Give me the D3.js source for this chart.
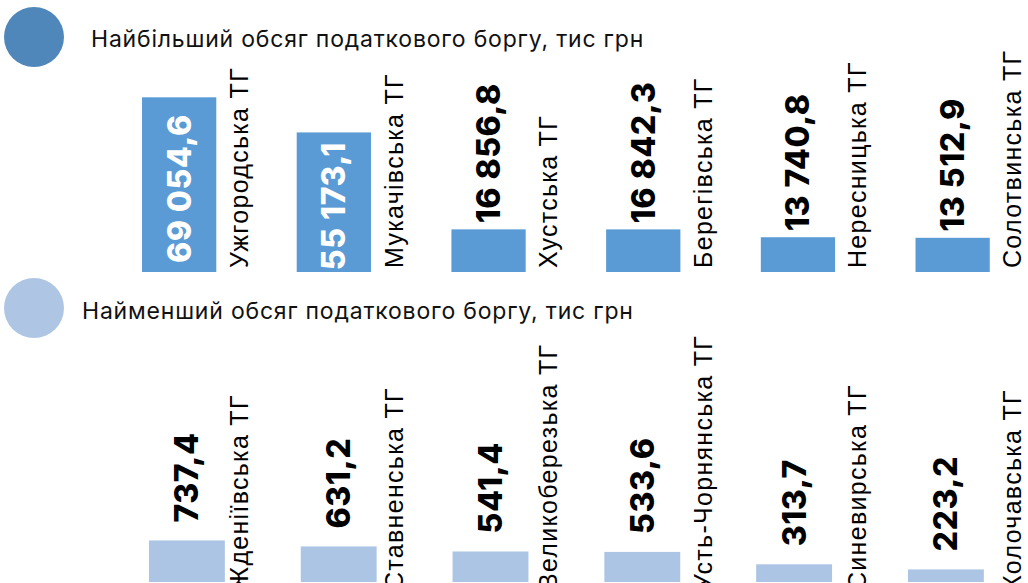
<!DOCTYPE html>
<html>
<head>
<meta charset="utf-8">
<script src="https://cdn.jsdelivr.net/npm/d3@7"></script>
<style>
  html, body { margin: 0; padding: 0; background: #fff; }
  svg { display: block; }
</style>
</head>
<body>
<div id="chart"></div>
<script>
/** --- DATA --- */

const topTitle = 'Найбільший обсяг податкового боргу, тис грн';
const topNames = ['Ужгородська ТГ', 'Мукачівська ТГ', 'Хустська ТГ', 'Берегівська ТГ', 'Нересницька ТГ', 'Солотвинська ТГ'];
const topValues = [69054.6, 55173.1, 16856.8, 16842.3, 13740.8, 13512.9];

const bottomTitle = 'Найменший обсяг податкового боргу, тис грн';
const bottomNames = ['Жденіївська ТГ', 'Ставненська ТГ', 'Великоберезька ТГ', 'Усть-Чорнянська ТГ', 'Синевирська ТГ', 'Колочавська ТГ'];
const bottomValues = [737.4, 631.2, 541.4, 533.6, 313.7, 223.2];

/** --- DIMENSIONS + MISC --- */

const width = 1028;
const height = 583;

const uaLocale = d3.formatLocale({ decimal: ',', thousands: '\u00a0', grouping: [3], currency: ['', ' грн'] });
const fmt = uaLocale.format(',.1f');

const svg = d3.select('#chart')
  .append('svg')
  .attr('width', width)
  .attr('height', height);

const labelFont = '"Liberation Sans", Arial, sans-serif';
const valueFont = 'Inter, "Open Sans", sans-serif';

// one section = legend circle + title + bars + labels
function section(opts) {
  const g = svg.append('g');
  const idx = d3.range(opts.values.length);

  const x = d3.scaleBand()
    .domain(idx)
    .range(opts.xRange)
    .paddingInner(opts.padIn)
    .paddingOuter(opts.padIn / 2);

  const y = d3.scaleLinear()
    .domain(opts.yDomain)
    .range(opts.yRange);

  const isInside = d => (y(0) - y(d)) > 130;

  g.append('circle')
    .attr('cx', 34)
    .attr('cy', opts.circleY)
    .attr('r', 30)
    .attr('fill', opts.circleColor);

  g.append('text')
    .attr('x', opts.titleX)
    .attr('y', opts.titleY)
    .attr('font-family', valueFont)
    .attr('font-size', 23)
    .attr('letter-spacing', 0.8)
    .attr('fill', '#111')
    .text(opts.title);

  g.selectAll('rect.bar')
    .data(opts.values)
    .join('rect')
    .attr('class', 'bar')
    .attr('x', (d, i) => x(i))
    .attr('y', d => y(d))
    .attr('width', x.bandwidth())
    .attr('height', d => y(0) - y(d))
    .attr('fill', opts.barColor);

  // values, rotated
  g.selectAll('text.val')
    .data(opts.values)
    .join('text')
    .attr('class', 'val')
    .attr('transform', function(d, i) {
      const cx = x(i) + x.bandwidth() / 2;
      const ty = isInside(d) ? (y(0) + y(d)) / 2 + 4 : y(d) - opts.valueGap;
      return 'translate(' + cx + ',' + ty + ') rotate(-90)';
    })
    .attr('text-anchor', d => isInside(d) ? 'middle' : 'start')
    .attr('dy', '0.36em')
    .attr('font-family', valueFont)
    .attr('font-weight', 800)
    .attr('font-size', 32)
    .attr('letter-spacing', 0.5)
    .attr('fill', d => isInside(d) ? '#fff' : '#000')
    .text(d => fmt(d));

  // category names, rotated, right of each bar
  g.selectAll('text.name')
    .data(opts.names)
    .join('text')
    .attr('class', 'name')
    .attr('transform', function(d, i) {
      return 'translate(' + opts.labelX(i) + ',' + opts.labelY + ') rotate(-90)';
    })
    .attr('font-family', labelFont)
    .attr('font-size', 25)
    .attr('letter-spacing', 1.3)
    .attr('fill', '#000')
    .text(d => d);
}

section({
  title: topTitle,
  names: topNames,
  values: topValues,
  xRange: [101.8, 1030],
  padIn: 0.52,
  yDomain: [0, 70000],
  yRange: [272, 94.9],
  circleY: 37,
  circleColor: '#4f87ba',
  barColor: '#5b9bd5',
  titleX: 91,
  titleY: 47,
  valueGap: 6,
  labelX: i => 248 + i * 154.6,
  labelY: 268
});

section({
  title: bottomTitle,
  names: bottomNames,
  values: bottomValues,
  xRange: [111, 1021.8],
  padIn: 0.5,
  yDomain: [0, 800],
  yRange: [582, 536.9],
  circleY: 308,
  circleColor: '#aec5e4',
  barColor: '#adc5e5',
  titleX: 82,
  titleY: 319,
  valueGap: 18,
  labelX: i => 248 + i * 154.6,
  labelY: 590
});
</script>
</body>
</html>
